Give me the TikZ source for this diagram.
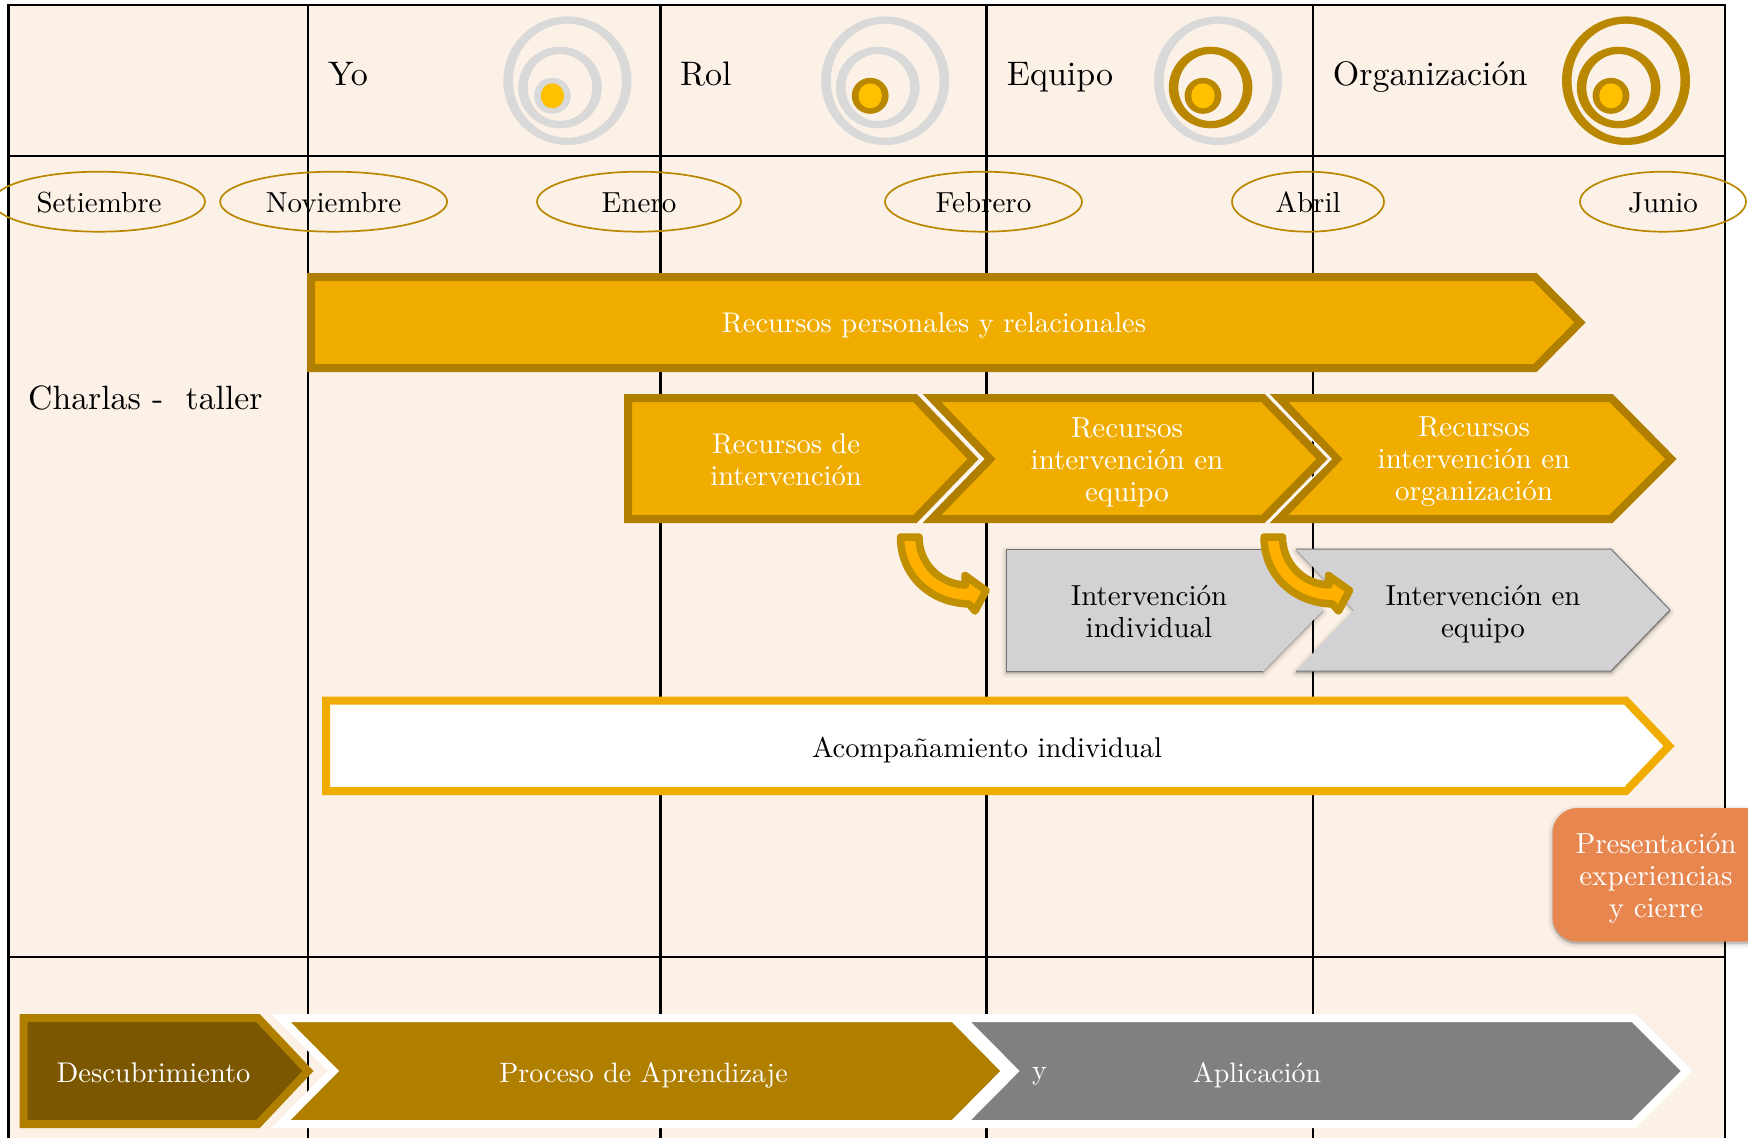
\documentclass[tikz,border=0pt]{standalone}
\usepackage{fontspec}
\setmainfont{lmroman10-regular}[Extension=.otf,BoldFont=lmroman10-bold,ItalicFont=lmroman10-italic]
\usetikzlibrary{shapes.geometric,calc}
\definecolor{bgcream}{HTML}{FBF1E7}
\definecolor{ringgray}{HTML}{D9D9D9}
\definecolor{ringgold}{HTML}{B98700}
\definecolor{coreyellow}{HTML}{FFC000}
\definecolor{arrfill}{HTML}{F0AD00}
\definecolor{arredge}{HTML}{B07F00}
\definecolor{bendfill}{HTML}{FFB000}
\definecolor{bendedge}{HTML}{C09000}
\definecolor{graybox}{HTML}{D2D2D4}
\definecolor{darkgold}{HTML}{7A5700}
\definecolor{midgray}{HTML}{808080}
\definecolor{orangebox}{HTML}{E7864F}
\newcommand{\softshadow}[1]{%
  \fill[black,opacity=.04,draw=black,line width=9,line join=round,yshift=-2] #1;
  \fill[black,opacity=.05,draw=black,line width=5,line join=round,yshift=-2] #1;
  \fill[black,opacity=.07,draw=black,line width=2,line join=round,yshift=-2] #1;}
\newcommand{\ringpair}[3]{% x centre, outer colour, middle colour handled by caller
  \fill[#2,even odd rule] (#1,80.7) ellipse [x radius=64,y radius=64.3] (#1,80.7) ellipse [x radius=54.5,y radius=57];
  \fill[#3,even odd rule] (#1-7.4,87.5) ellipse [x radius=41.8,y radius=40.8] (#1-7.4,87.5) ellipse [x radius=32.3,y radius=33.5];}
\tikzset{
  x=1pt,y=-1pt,
  every node/.style={font=\fontsize{29}{32}\selectfont,inner sep=0pt,align=center},
  gridline/.style={black,line width=2.4},
  hdr/.style={anchor=base west,font=\fontsize{34}{38}\selectfont},
  monthell/.style={ellipse,draw=ringgold,line width=1.7,text height=20.6,text depth=0,minimum height=60},
  bigarr/.style={fill=arrfill,draw=arredge,line width=8,miter limit=10},
  sepline/.style={white,line width=1.3},
  bendarr/.style={fill=bendfill,draw=bendedge,line width=7.5,line join=round},
  grayarr/.style={fill=graybox},
  grayedge/.style={black!55,line width=1},
  lastarr/.style={draw=white,line width=8,miter limit=10},
  lowtext/.style={text=white,font=\fontsize{28}{32}\selectfont},
  midtext/.style={font=\fontsize{28.5}{32}\selectfont},
}
\begin{document}
\begin{tikzpicture}
\useasboundingbox (0,0) rectangle (1748,1138);
\fill[bgcream] (8.4,5) rectangle (1725,1138);
% grid
\draw[gridline] (8.4,1138) -- (8.4,5) -- (1725,5) -- (1725,1138);
\draw[gridline] (8.4,156) -- (1725,156);
\draw[gridline] (8.4,957) -- (1725,957);
\foreach \gx in {308,660.5,986.6,1312.7} \draw[gridline] (\gx,5) -- (\gx,1138);
% headers
\node[hdr] (hYo) at (328,85) {Yo};
\node[hdr] (hRol) at (680,85) {Rol};
\node[hdr] (hEq) at (1006.7,85) {Equipo};
\node[hdr] (hOrg) at (1332.7,85) {Organización};
% rings
\foreach \rx/\ca/\cb/\cc in {567.4/ringgray/ringgray/ringgray,885.2/ringgray/ringgray/ringgold,1218/ringgray/ringgold/ringgold,1626/ringgold/ringgold/ringgold}{
  \ringpair{\rx}{\ca}{\cb}
  \fill[\cc] (\rx-15,95.8) ellipse [x radius=18.4,y radius=18];
  \fill[coreyellow] (\rx-15,95.8) ellipse [x radius=11.7,y radius=12.5];
}
% months
\node[monthell,minimum width=212] (mSet) at (99,201.7) {Setiembre};
\node[monthell,minimum width=227] (mNov) at (333.6,201.7) {Noviembre};
\node[monthell,minimum width=204] (mEne) at (639,201.7) {Enero};
\node[monthell,minimum width=197] (mFeb) at (983.5,201.7) {Febrero};
\node[monthell,minimum width=152] (mAbr) at (1308,201.7) {Abril};
\node[monthell,minimum width=166] (mJun) at (1663,201.7) {Junio};
\node[hdr,font=\fontsize{33.7}{38}\selectfont] (lCharlas) at (28,409) {Charlas -\ \ taller};
% big arrow
\draw[bigarr] (311,277) -- (1535,277) -- (1580,322.5) -- (1535,368) -- (311,368) -- cycle;
\node[text=white,midtext] (tPers) at (934,326) {Recursos personales y relacionales};
% row two
\draw[bigarr] (628,398) -- (915,398) -- (973,459) -- (915,519) -- (628,519) -- cycle;
\draw[bigarr] (932,398) -- (1263,398) -- (1322,459) -- (1263,519) -- (932,519) -- (990,459) -- cycle;
\draw[bigarr] (1279,398) -- (1611,398) -- (1671,459) -- (1611,519) -- (1279,519) -- (1337,459) -- cycle;
\draw[sepline] (920,394) -- (983.4,459) -- (920,523);
\draw[sepline] (1268,394) -- (1331,459) -- (1268,523);
\node[text=white,midtext] (tR1) at (786,460) {Recursos de\\intervención};
\node[text=white] (tR2) at (1127,462) {Recursos\\intervención en\\equipo};
\node[text=white] (tR3) at (1474,462) {Recursos\\intervención en\\organización};
% gray row
\softshadow{(1006,549) -- (1263,549) -- (1323,610) -- (1263,671) -- (1006,671) -- cycle}
\fill[grayarr] (1006,549) -- (1263,549) -- (1323,610) -- (1263,671) -- (1006,671) -- cycle;
\draw[grayedge] (1263,671) -- (1006,671) -- (1006,549) -- (1263,549);
\softshadow{(1296,549) -- (1611,549) -- (1670,610) -- (1611,671) -- (1296,671) -- (1354,610) -- cycle}
\fill[grayarr] (1296,549) -- (1611,549) -- (1670,610) -- (1611,671) -- (1296,671) -- (1354,610) -- cycle;
\draw[grayedge] (1296,549) -- (1611,549) -- (1670,610) -- (1611,671) -- (1296,671);
\node (tI1) at (1149,612) {Intervención\\individual};
\node (tI2) at (1483,614) {Intervención en\\equipo};
% bent arrows
\foreach \dx in {0,363.5}{
  \draw[bendarr,xshift=\dx] (900.5,537) .. controls (900.5,575) and (930,603) .. (969,604)
     -- (975,611) -- (986,590.5) -- (965,575.5) -- (965.5,585)
     .. controls (938,584) and (919,562) .. (919,537) -- cycle;
}
% white arrow
\draw[bigarr,fill=white,draw=arrfill] (326,700.7) -- (1626,700.7) -- (1669,746) -- (1626,791) -- (326,791) -- cycle;
\node[midtext] (tAcomp) at (987,750) {Acompañamiento individual};
% orange box
\softshadow{[rounded corners=25] (1552.5,808) rectangle (1770,941.7)}
\fill[orangebox,rounded corners=25] (1552.5,808) rectangle (1770,941.7);
\node[text=white] (tPres) at (1656,878) {Presentación\\experiencias\\y cierre};
% bottom row
\draw[lastarr,fill=midgray] (961.4,1018) -- (1633.6,1018) -- (1686.6,1071) -- (1633.6,1124) -- (961.4,1124) -- (1014,1071) -- cycle;
\draw[lastarr,fill=arredge] (281,1018) -- (953.6,1018) -- (1006,1071) -- (953.6,1124) -- (281,1124) -- (333.4,1071) -- cycle;
\draw[bigarr,fill=darkgold] (23.5,1018) -- (258,1018) -- (308,1071) -- (258,1124) -- (23.5,1124) -- cycle;
\node[text=white,midtext] (tDesc) at (153.5,1073) {Descubrimiento};
\node[lowtext] (tProc) at (643.5,1075) {Proceso de Aprendizaje};
\node[lowtext] (tY) at (1039.5,1076) {y};
\node[lowtext] (tApl) at (1257,1075) {Aplicación};
\end{tikzpicture}
\end{document}
